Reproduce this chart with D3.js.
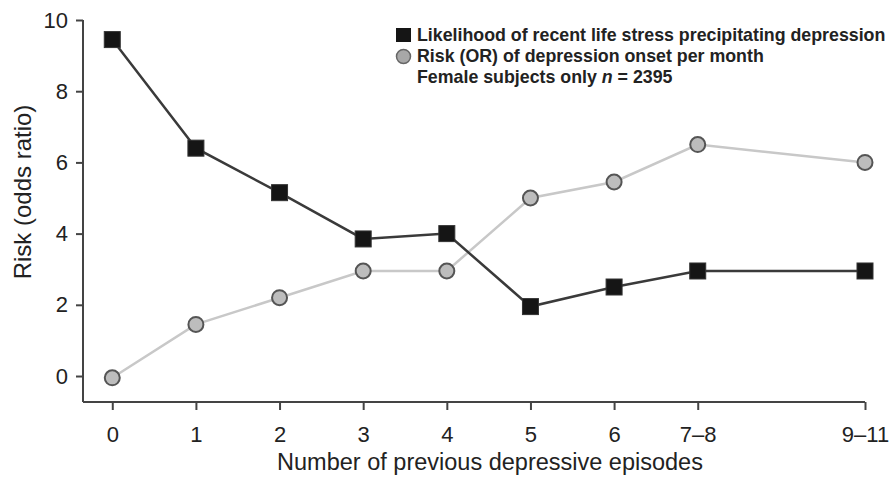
<!DOCTYPE html>
<html>
<head>
<meta charset="utf-8">
<script src="https://cdn.jsdelivr.net/npm/d3@7"></script>
<style>
  body { margin: 0; background: #fff; }
  text { font-family: "Liberation Sans", Arial, sans-serif; fill: #222; }
</style>
</head>
<body>
<div id="chart"></div>
<script>
// categories and their position on the x axis (gap before 9–11)
var categories = ["0", "1", "2", "3", "4", "5", "6", "7\u20138", "9\u201311"];
var positions = [0, 1, 2, 3, 4, 5, 6, 7, 9];
var stressValues = [9.45, 6.4, 5.15, 3.85, 4.0, 1.95, 2.5, 2.95, 2.95];
var onsetValues = [-0.05, 1.45, 2.2, 2.95, 2.95, 5.0, 5.45, 6.5, 6.0];
var yTicks = [0, 2, 4, 6, 8, 10];

var width = 895, height = 479;

var svg = d3.select("#chart").append("svg")
    .attr("width", width)
    .attr("height", height);

var x = d3.scaleLinear().domain([-0.35, 9]).range([83, 865]);
var y = d3.scaleLinear().domain([-0.73, 10]).range([402, 20]);

// axes
var yAxis = d3.axisLeft(y).tickValues(yTicks).tickSize(7).tickPadding(8).tickSizeOuter(0);
var gy = svg.append("g").attr("transform", "translate(83,0)").call(yAxis);
gy.select(".domain").attr("d", "M0," + y(10) + "V" + y(-0.73));

var xAxis = d3.axisBottom(x).tickValues(positions)
    .tickFormat(function(d, i) { return categories[i]; })
    .tickSize(8).tickPadding(16).tickSizeOuter(0);
var gx = svg.append("g").attr("transform", "translate(0,402)").call(xAxis);
gx.select(".domain").attr("d", "M83,0H" + x(9));

svg.selectAll(".domain, .tick line").attr("stroke", "#444").attr("stroke-width", 2);
svg.selectAll(".tick text").style("font-size", "22px").attr("fill", "#222");

// axis titles
svg.append("text")
    .attr("transform", "translate(31,192) rotate(-90)")
    .attr("text-anchor", "middle")
    .style("font-size", "24px")
    .text("Risk (odds ratio)");

svg.append("text")
    .attr("x", 490).attr("y", 470)
    .attr("text-anchor", "middle")
    .style("font-size", "23.5px")
    .text("Number of previous depressive episodes");

// series
var stress = positions.map(function(p, i) { return {x: p, y: stressValues[i]}; });
var onset = positions.map(function(p, i) { return {x: p, y: onsetValues[i]}; });

var line = d3.line().x(function(d) { return x(d.x); }).y(function(d) { return y(d.y); });

svg.append("path").datum(onset)
    .attr("d", line).attr("fill", "none")
    .attr("stroke", "#c8c8c8").attr("stroke-width", 2.5);

svg.append("path").datum(stress)
    .attr("d", line).attr("fill", "none")
    .attr("stroke", "#3a3a3a").attr("stroke-width", 2.5);

svg.selectAll(".onset").data(onset).enter().append("circle")
    .attr("class", "onset")
    .attr("cx", function(d) { return x(d.x); })
    .attr("cy", function(d) { return y(d.y); })
    .attr("r", 7.5)
    .attr("fill", "#bdbdbd").attr("stroke", "#555").attr("stroke-width", 2);

svg.selectAll(".stress").data(stress).enter().append("rect")
    .attr("class", "stress")
    .attr("x", function(d) { return x(d.x) - 8; })
    .attr("y", function(d) { return y(d.y) - 8; })
    .attr("width", 16).attr("height", 16)
    .attr("fill", "#151515").attr("stroke", "#333").attr("stroke-width", 1);

// legend
var legend = svg.append("g").attr("transform", "translate(396,41)");
legend.append("rect").attr("x", 0).attr("y", -13).attr("width", 15).attr("height", 14)
    .attr("fill", "#151515");
legend.append("circle").attr("cx", 7.5).attr("cy", 15.5).attr("r", 7)
    .attr("fill", "#a8a8a8").attr("stroke", "#666").attr("stroke-width", 1.5);
var legendText = [
  "Likelihood of recent life stress precipitating depression",
  "Risk (OR) of depression onset per month"
];
legend.selectAll(".lt").data(legendText).enter().append("text")
    .attr("class", "lt")
    .attr("x", 21).attr("y", function(d, i) { return i * 21; })
    .style("font-size", "17.8px").style("font-weight", "bold")
    .text(function(d) { return d; });
var last = legend.append("text").attr("x", 21).attr("y", 42)
    .style("font-size", "17.8px").style("font-weight", "bold");
last.append("tspan").text("Female subjects only ");
last.append("tspan").style("font-style", "italic").text("n");
last.append("tspan").text(" = 2395");
</script>
</body>
</html>
